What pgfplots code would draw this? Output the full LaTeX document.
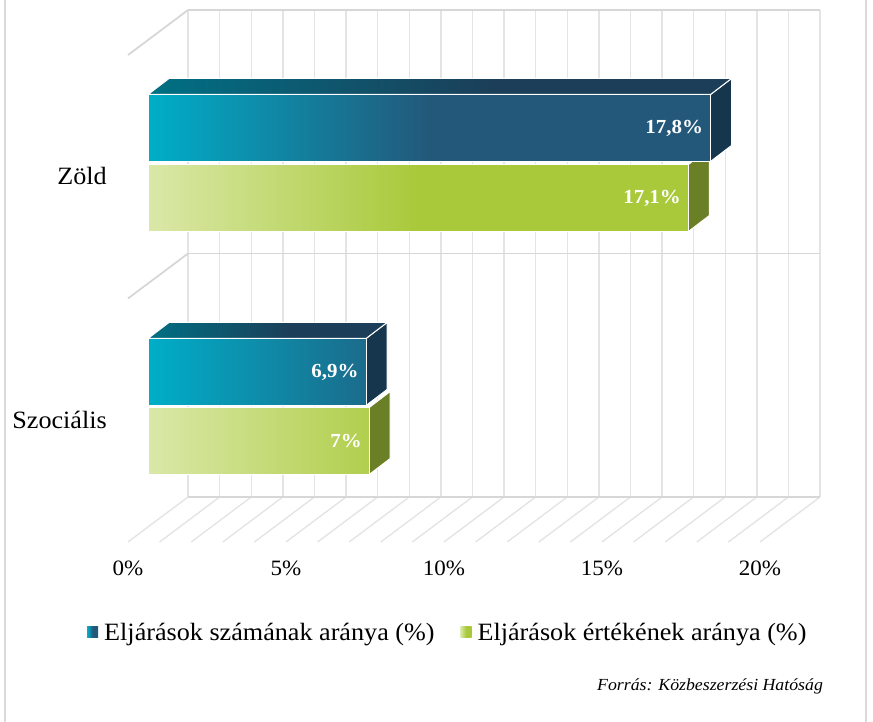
\documentclass[border=0pt]{standalone}
\usepackage{pgfplots}
\usepackage{pgfplotstable}
\pgfplotsset{compat=1.18}
\usepackage{fontspec}
\setmainfont{Liberation Serif}[FakeStretch=1.05]

\definecolor{bA}{RGB}{0,174,200}
\definecolor{bB}{RGB}{35,88,122}
\definecolor{bTA}{RGB}{0,112,132}
\definecolor{bTB}{RGB}{28,62,88}
\definecolor{bS}{RGB}{22,54,78}
\definecolor{gA}{RGB}{218,232,168}
\definecolor{gB}{RGB}{169,201,58}
\definecolor{gS}{RGB}{107,128,38}
\definecolor{gridc}{RGB}{228,228,228}
\definecolor{wallc}{RGB}{215,215,215}
\definecolor{framec}{RGB}{218,218,218}

\pgfdeclarehorizontalshading{bluefront}{100bp}{color(0bp)=(bA); color(25bp)=(bA); color(50bp)=(bB); color(100bp)=(bB)}
\pgfdeclarehorizontalshading{bluetop}{100bp}{color(0bp)=(bTA); color(25bp)=(bTA); color(55bp)=(bTB); color(100bp)=(bTB)}
\pgfdeclarehorizontalshading{greenfront}{100bp}{color(0bp)=(gA); color(25bp)=(gA); color(50bp)=(gB); color(100bp)=(gB)}

% y = vertical position of the bar centre (layout), v = value in %
\pgfplotstableread{
y v
594 17.8
350 6.9
}\bluedata
\pgfplotstableread{
y v
524 17.1
281 7
}\greendata

\begin{document}
\begin{tikzpicture}
\begin{axis}[
  x=31.6bp, y=1bp,
  xmin=-4.684, xmax=22.943, ymin=165, ymax=722,
  axis line style={draw=none},
  major tick length=0pt,
  xtick={0,5,10,15,20},
  xticklabels={0\%,5\%,10\%,15\%,20\%},
  xticklabel style={xshift=-20bp, font=\fontsize{22}{26}\selectfont},
  ytick={302,546},
  yticklabels={Szociális,Zöld},
  yticklabel style={anchor=east, inner sep=0pt, xshift=107bp, font=\fontsize{25}{29}\selectfont},
  clip=false,
  legend style={draw=none, fill=none, at={(axis description cs:0.513,-0.135)}, anchor=center,
    font=\fontsize{25}{29}\selectfont,
    /tikz/every even column/.append style={column sep=24bp}},
  legend columns=2,
  legend cell align=left,
]
% legend entries
\addlegendimage{legend image code/.code={\shade[shading=bluefront, draw=none] (0bp,-5.5bp) rectangle (11bp,5.5bp); \path[draw=none, fill=none] (11bp,0bp) rectangle (15bp,0.1bp);}}
\addlegendimage{legend image code/.code={\shade[shading=greenfront, draw=none] (0bp,-5.5bp) rectangle (11bp,5.5bp); \path[draw=none, fill=none] (11bp,0bp) rectangle (15bp,0.1bp);}}
\legend{Eljárások számának aránya (\%), Eljárások értékének aránya (\%)}

% 3D wall and floor grid
\pgfplotsinvokeforeach{0,...,20}{
  \draw[gridc, line width=1.4bp] (axis cs:{#1+1.266},225) -- (axis cs:{#1+1.266},712);
  \draw[gridc, line width=1.4bp] (axis cs:{#1+1.266},225) -- (axis cs:{#1-0.633},180);
}
\draw[wallc, line width=1.8bp] (axis cs:1.266,712) -- (axis cs:21.266,712);
\draw[wallc, line width=1.8bp] (axis cs:1.266,468.5) -- (axis cs:21.266,468.5);
\draw[wallc, line width=1.8bp] (axis cs:1.266,225) -- (axis cs:21.266,225);
\draw[wallc, line width=1.8bp] (axis cs:1.266,712) -- (axis cs:-0.633,667);
\draw[wallc, line width=1.8bp] (axis cs:1.266,468.5) -- (axis cs:-0.633,423.5);

% side faces of blue bars
\addplot[fill=bS, draw=white, line width=1bp, forget plot] coordinates {(17.8,627.5) (18.465,643.5) (18.465,576.5) (17.8,560.5) (17.8,627.5)};
\addplot[fill=bS, draw=white, line width=1bp, forget plot] coordinates {(6.9,383.5) (7.565,399.5) (7.565,332.5) (6.9,316.5) (6.9,383.5)};
% side faces of green bars
\addplot[fill=gS, draw=white, line width=1bp, forget plot] coordinates {(17.1,557.5) (17.765,573.5) (17.765,506.5) (17.1,490.5) (17.1,557.5)};
\addplot[fill=gS, draw=white, line width=1bp, forget plot] coordinates {(7,314.5) (7.665,330.5) (7.665,263.5) (7,247.5) (7,314.5)};

% front faces
\addplot[xbar, bar width=67, bar shift=0pt, shade, shading=greenfront, draw=white, line width=1bp, forget plot,
  point meta=x, nodes near coords={\pgfmathprintnumber[use comma, assume math mode=true]{\pgfplotspointmeta}\%},
  every node near coord/.append style={anchor=east, text=white, inner sep=0pt, xshift=-7bp, font=\bfseries\fontsize{20}{24}\selectfont}]
  table[x=v, y=y] {\greendata};
\addplot[xbar, bar width=67, bar shift=0pt, shade, shading=bluefront, draw=white, line width=1bp, forget plot,
  point meta=x, nodes near coords={\pgfmathprintnumber[use comma, assume math mode=true]{\pgfplotspointmeta}\%},
  every node near coord/.append style={anchor=east, text=white, inner sep=0pt, xshift=-7bp, font=\bfseries\fontsize{20}{24}\selectfont}]
  table[x=v, y=y] {\bluedata};

% top faces of blue bars
\addplot[shade, shading=bluetop, draw=white, line width=1bp, forget plot] coordinates {(0,627.5) (0.665,643.5) (18.465,643.5) (17.8,627.5) (0,627.5)};
\addplot[shade, shading=bluetop, draw=white, line width=1bp, forget plot] coordinates {(0,383.5) (0.665,399.5) (7.565,399.5) (6.9,383.5) (0,383.5)};

% source and frame
\node[anchor=east, font=\itshape\fontsize{17}{20}\selectfont] at (axis cs:21.47,36) {Forrás: Közbeszerzési Hatóság};
\draw[framec, line width=2.5bp] (axis cs:-4.525,0) -- (axis cs:-4.525,722);
\draw[framec, line width=2.5bp] (axis cs:22.722,0) -- (axis cs:22.722,722);
\coordinate (BBa) at (axis cs:-4.684,0);
\coordinate (BBb) at (axis cs:22.943,722);
\end{axis}
\pgfresetboundingbox
\path[use as bounding box] (BBa) rectangle (BBb);
\end{tikzpicture}
\end{document}
